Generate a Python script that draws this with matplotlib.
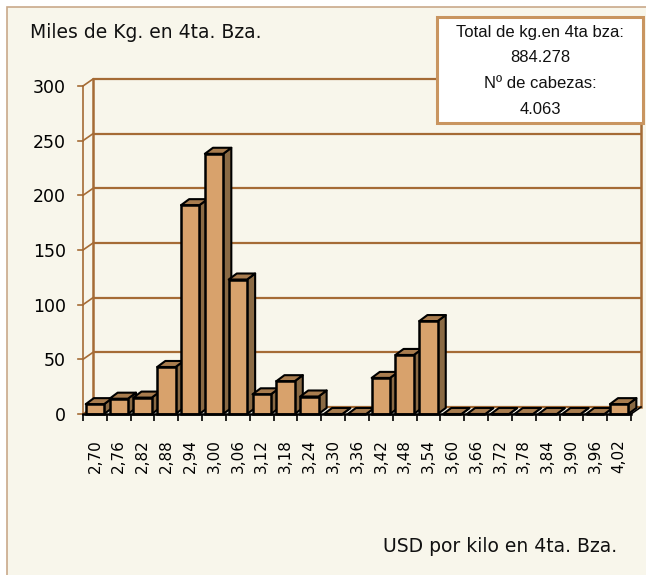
import matplotlib
matplotlib.use("Agg")
import matplotlib.pyplot as plt
from matplotlib.patches import Polygon, Rectangle

# ---- data ----
categories = ["2,70", "2,76", "2,82", "2,88", "2,94", "3,00", "3,06", "3,12",
              "3,18", "3,24", "3,30", "3,36", "3,42", "3,48", "3,54", "3,60",
              "3,66", "3,72", "3,78", "3,84", "3,90", "3,96", "4,02"]
values = [9, 14, 15, 43, 191, 238, 123, 18, 30, 16, 0, 0, 33, 54, 85,
          0, 0, 0, 0, 0, 0, 0, 9]
y_ticks = [0, 50, 100, 150, 200, 250, 300]
y_title = "Miles de Kg. en 4ta. Bza."
x_title = "USD por kilo en 4ta. Bza."
box_lines = ["Total de kg.en 4ta bza:", "884.278", "Nº de cabezas:", "4.063"]

# ---- style ----
BG = "#F8F6EB"
FACE = "#D8A26C"
TOP = "#A87C4E"
SIDE = "#8A6A44"
GRID = "#A56B35"
FONT = "DejaVu Sans"

W, H = 646, 575
fig = plt.figure(figsize=(W / 100, H / 100), dpi=100)
fig.patch.set_facecolor("white")

# outer chart frame
fig.patches.append(Rectangle((7 / W, -0.1), 1.2, (H - 7) / H + 0.1,
                             transform=fig.transFigure, facecolor=BG,
                             edgecolor="#C9A98A", linewidth=1.2, zorder=-5))

ax = fig.add_axes([83 / W, (H - 414) / H, 548 / W, 328 / H])
ax.set_zorder(1)
ax.set_facecolor("none")
for s in ax.spines.values():
    s.set_visible(False)
n = len(categories)
ax.set_xlim(-0.5, n - 0.5)
ax.set_ylim(0, 300)

# wall depth (data units) and bar depth
wdx, wdy = 0.42, 6.4
bdx, bdy = 0.34, 5.5
bw = 0.77

xl, xr = -0.5, n - 0.5
# back wall gridlines + left wall diagonals
for v in y_ticks:
    ax.plot([xl + wdx, xr + wdx], [v + wdy, v + wdy], color=GRID, lw=1.6,
            clip_on=False, zorder=1, solid_capstyle="butt")
    ax.plot([xl, xl + wdx], [v, v + wdy], color=GRID, lw=1.2,
            clip_on=False, zorder=1)
    ax.plot([xl - 0.2, xl], [v, v], color=GRID, lw=1.2, clip_on=False, zorder=1)
ax.plot([xl + wdx, xl + wdx], [wdy, 300 + wdy], color=GRID, lw=1.8,
        clip_on=False, zorder=1)
ax.plot([xr + wdx, xr + wdx], [wdy, 300 + wdy], color=GRID, lw=1.8,
        clip_on=False, zorder=1)
ax.plot([xl, xl], [0, 300], color=GRID, lw=1.2, clip_on=False, zorder=1)
ax.plot([xr, xr + wdx], [0, wdy], color="black", lw=1.2, clip_on=False, zorder=1)

# bars
for i, v in enumerate(values):
    x0 = i - bw / 2
    x1 = i + bw / 2
    z = 3 + i * 0.1
    side = Polygon([(x1, 0), (x1, v), (x1 + bdx, v + bdy), (x1 + bdx, bdy)],
                   closed=True, facecolor=SIDE, edgecolor="black", lw=1.5,
                   zorder=z, clip_on=False, joinstyle="round")
    top = Polygon([(x0, v), (x0 + bdx, v + bdy), (x1 + bdx, v + bdy), (x1, v)],
                  closed=True, facecolor=TOP, edgecolor="black", lw=1.5,
                  zorder=z + 0.01, clip_on=False, joinstyle="round")
    ax.add_patch(side)
    ax.add_patch(top)
    ax.bar([i], [v], width=bw, color=FACE, edgecolor="black", linewidth=1.8,
           zorder=z + 0.02, clip_on=False)

# front axis line with ticks
ax.plot([xl, xr], [0, 0], color="black", lw=1.8, zorder=10, clip_on=False)
ax.set_xticks([i - 0.5 for i in range(n + 1)], minor=False)
ax.set_xticklabels([])
ax.tick_params(axis="x", direction="out", length=5, width=1.2, color="black")
ax.set_xticks(range(n), minor=True)
ax.set_xticklabels(categories, minor=True, rotation=90, fontsize=11,
                   fontfamily=FONT, va="top")
ax.tick_params(axis="x", which="minor", length=0, pad=18)

ax.set_yticks(y_ticks)
ax.set_yticklabels([str(t) for t in y_ticks], fontsize=12.5, fontfamily=FONT)
ax.tick_params(axis="y", length=0, pad=12.5)

# titles
fig.text(30 / W, 1 - 33 / H, y_title, fontsize=13.5, fontfamily=FONT,
         ha="left", va="center", color="#111111")
fig.text(617 / W, 1 - 546 / H, x_title, fontsize=13.5, fontfamily=FONT,
         ha="right", va="center", color="#111111")

# info box
fig.patches.append(Rectangle((437 / W, 1 - 123 / H), 206 / W, 106 / H,
                             transform=fig.transFigure, facecolor="white",
                             edgecolor="#C99560", linewidth=2.2, zorder=20))
for k, t in enumerate(box_lines):
    fig.text(540 / W, 1 - (32 + k * 26) / H, t, fontsize=12,
             fontfamily="Liberation Sans", ha="center", va="center",
             color="#111111", zorder=21)

fig.savefig("out.png", dpi=100, facecolor="white")
